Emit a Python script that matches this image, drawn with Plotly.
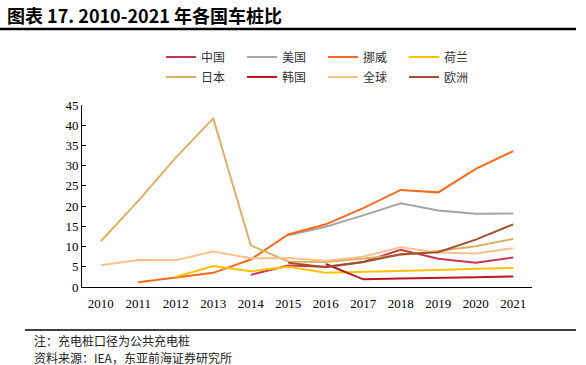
import plotly.graph_objects as go

years = [str(y) for y in range(2010, 2022)]

china = [None, None, None, None, 3.0, 5.3, 5.0, 6.2, 9.2, 7.0, 6.0, 7.3]
usa = [None, None, None, None, None, 12.8, 14.9, 17.7, 20.7, 18.9, 18.1, 18.2]
norway = [None, 1.2, 2.3, 3.5, 6.8, 13.0, 15.5, 19.5, 24.0, 23.4, 29.2, 33.6]
netherlands = [None, None, 2.5, 5.2, 3.9, 5.0, 3.5, 3.7, 4.0, 4.2, 4.5, 4.7]
japan = [11.3, 21.3, 32.0, 41.7, 10.3, 6.3, 6.2, 7.0, 7.9, 8.9, 10.1, 11.9]
korea = [None, None, None, None, None, None, 5.7, 1.9, 2.1, 2.2, 2.4, 2.6]
world = [5.4, 6.7, 6.6, 8.8, 7.1, 7.2, 6.5, 7.5, 9.8, 8.5, 8.3, 9.6]
europe = [None, None, None, None, None, 6.0, 4.9, 6.2, 8.1, 8.6, 11.7, 15.5]

series = [
    ("中国", china, "#C8384B", "legend"),
    ("美国", usa, "#A6A6A6", "legend"),
    ("挪威", norway, "#F96A1B", "legend"),
    ("荷兰", netherlands, "#FFC000", "legend"),
    ("日本", japan, "#DDB064", "legend2"),
    ("韩国", korea, "#BE1622", "legend2"),
    ("全球", world, "#FBC08C", "legend2"),
    ("欧洲", europe, "#A0522D", "legend2"),
]

W, H = 586, 365
ML, MR, MT, MB = 82, 54, 105, 78
PW, PH = W - ML - MR, H - MT - MB

def px(x):
    return (x - ML) / PW

def py(y):
    return (H - MB - y) / PH

fig = go.Figure()
for name, vals, color, lg in series:
    fig.add_trace(go.Scatter(
        x=years, y=vals, name=name, mode="lines",
        line=dict(color=color, width=2),
        legend=lg,
    ))

cjk = "Noto Sans CJK SC"
serif = "Liberation Serif"

legend_common = dict(
    orientation="h", xanchor="left", yanchor="middle",
    font=dict(family=cjk, size=12, color="#333333"),
    entrywidth=36, entrywidthmode="pixels", itemwidth=30,
    bgcolor="rgba(0,0,0,0)", tracegroupgap=0,
)
fig.update_layout(
    width=W, height=H,
    margin=dict(l=ML, r=MR, t=MT, b=MB),
    paper_bgcolor="white", plot_bgcolor="white",
    showlegend=True,
    legend=dict(x=px(161), y=py(57), **legend_common),
    legend2=dict(x=px(161), y=py(77), **legend_common),
    xaxis=dict(
        type="category", range=[-0.5, 11.5], showgrid=False, showline=True,
        linecolor="#000000", linewidth=1, ticks="", ticklabelstandoff=4,
        tickfont=dict(family=serif, size=13, color="#000000"), zeroline=False,
    ),
    yaxis=dict(
        range=[0, 45], dtick=5, showgrid=False, showline=True, linecolor="#000000",
        linewidth=1, ticks="inside", ticklen=4, tickcolor="#000000",
        tickfont=dict(family=serif, size=13, color="#000000"), zeroline=False,
    ),
)

fig.add_annotation(
    text="<b>图表 17. 2010-2021 年各国车桩比</b>",
    xref="paper", yref="paper", x=px(5), y=py(15),
    xanchor="left", yanchor="middle", showarrow=False,
    font=dict(family=cjk, size=18, color="#000000"),
)
fig.add_shape(type="line", xref="paper", yref="paper",
              x0=px(0), x1=px(576), y0=py(29), y1=py(29),
              line=dict(color="#000000", width=2.5))
fig.add_shape(type="line", xref="paper", yref="paper",
              x0=px(25), x1=px(576), y0=py(330), y1=py(330),
              line=dict(color="#000000", width=1.5))
fig.add_annotation(
    text="注：充电桩口径为公共充电桩",
    xref="paper", yref="paper", x=px(32), y=py(340),
    xanchor="left", yanchor="middle", showarrow=False,
    font=dict(family=cjk, size=12, color="#222222"),
)
fig.add_annotation(
    text="资料来源：IEA，东亚前海证券研究所",
    xref="paper", yref="paper", x=px(32), y=py(357),
    xanchor="left", yanchor="middle", showarrow=False,
    font=dict(family=cjk, size=12, color="#222222"),
)

fig.write_html(
    "out.html",
    config={"displayModeBar": False},
    post_script="document.body.style.margin='0';document.body.style.overflow='hidden';",
)
